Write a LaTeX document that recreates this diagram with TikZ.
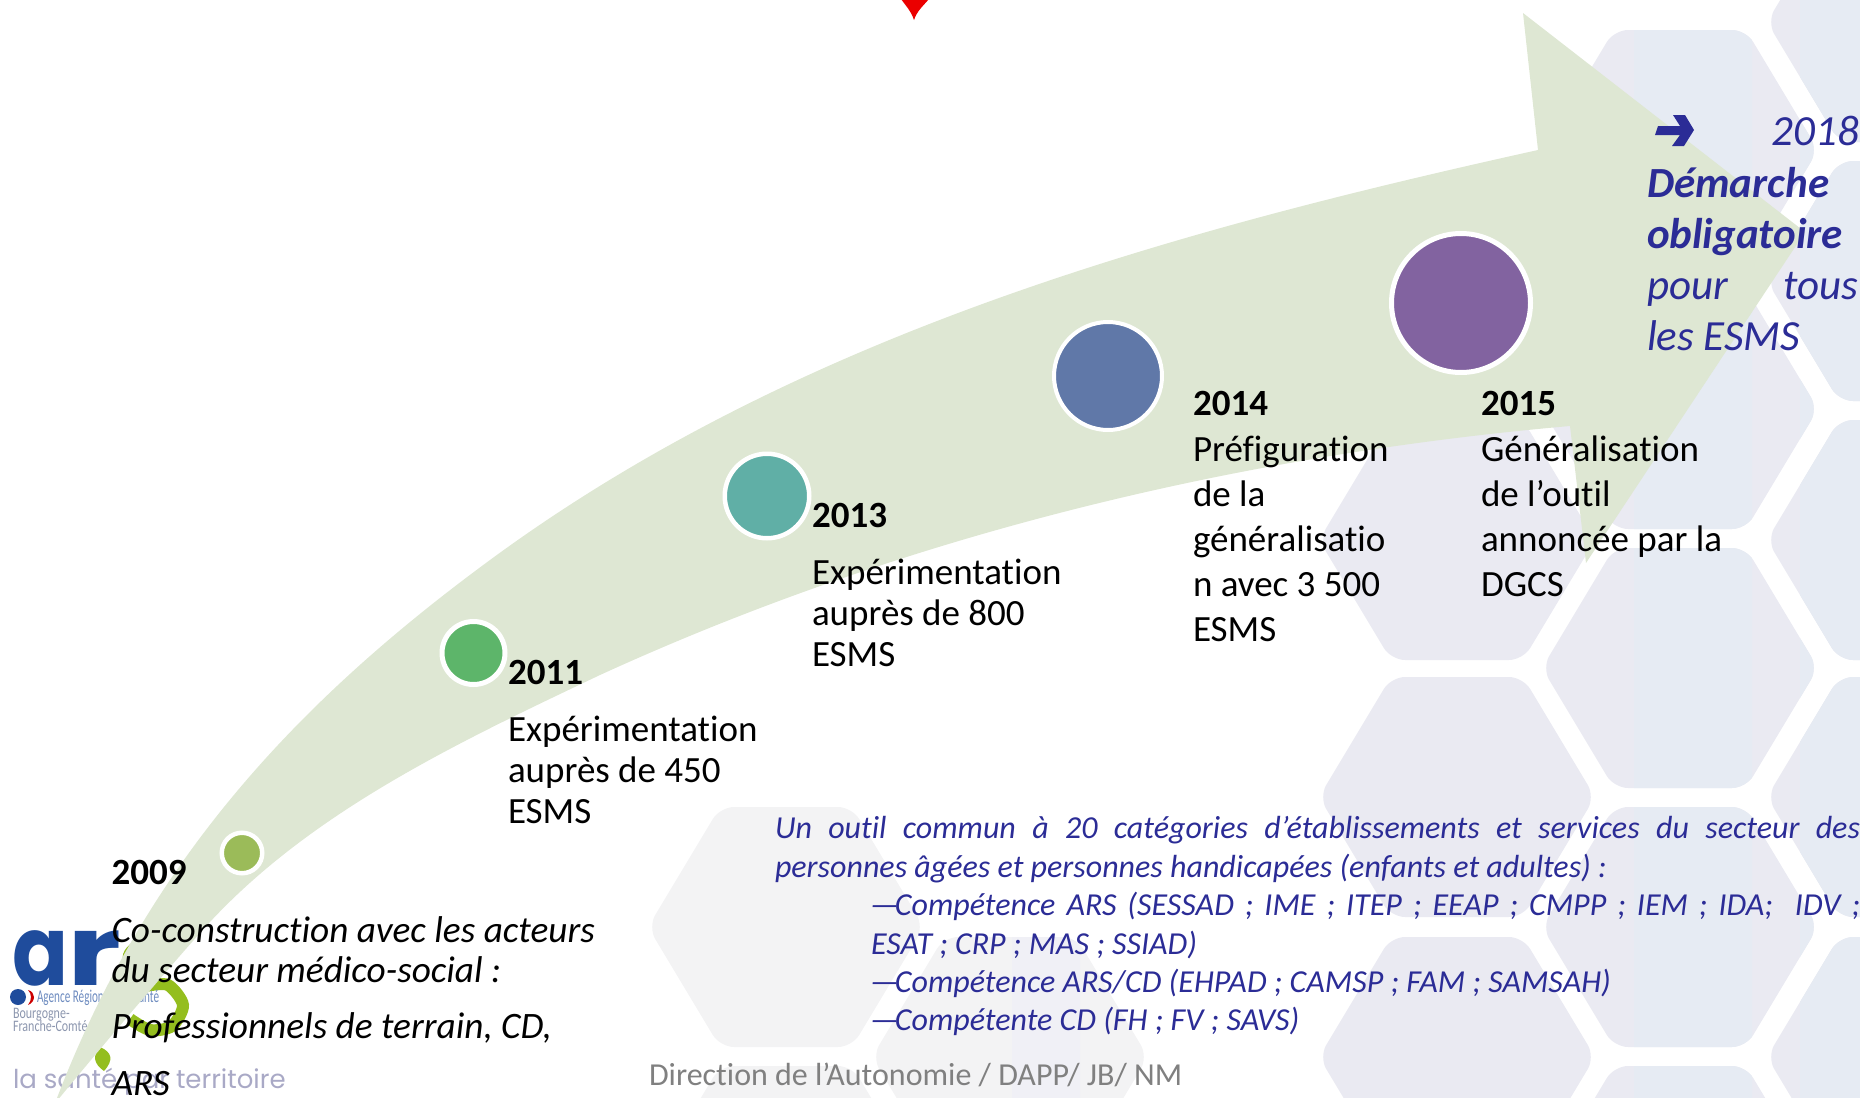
\documentclass[tikz,border=0pt]{standalone}
\usepackage{fontspec}
\setmainfont{Carlito}[Ligatures=NoCommon]
\newfontfamily\logofont{Poppins}
\newcommand\fs[1]{\fontsize{\fpeval{#1*0.5}pt}{\fpeval{#1*0.6}pt}\selectfont}
\newcommand\tiret{—\hspace{-2pt}}
\definecolor{lav}{HTML}{EAEAF2}
\definecolor{lavb}{HTML}{E6EBF3}
\definecolor{gris}{HTML}{F3F3F4}
\definecolor{arrowg}{HTML}{DEE7D3}
\definecolor{bleu}{HTML}{2B2C96}
\definecolor{logob}{HTML}{1F4C9C}
\definecolor{logog}{HTML}{94BE1E}
\definecolor{logot}{HTML}{8C96AE}
\definecolor{logos}{HTML}{A9A9C6}
\definecolor{c9BBB59}{HTML}{9BBB59}
\definecolor{c5DB56A}{HTML}{5DB56A}
\definecolor{c60AFA6}{HTML}{60AFA6}
\definecolor{c6078A8}{HTML}{6078A8}
\definecolor{c8263A0}{HTML}{8263A0}
\newcommand\myhex[3]{\fill[#3,rounded corners=7pt] ({#1-138},{#2}) -- ({#1-66},{#2-120}) -- ({#1+66},{#2-120}) -- ({#1+138},{#2}) -- ({#1+66},{#2+120}) -- ({#1-66},{#2+120}) -- cycle;}
\newcommand\lavhexes[1]{%
  \foreach \cy in {150,409,668,927,1186}{\myhex{1680}{\cy}{#1}}
  \foreach \cy in {22,281,540,797,1057}{\myhex{1905}{\cy}{#1}}
  \foreach \cy in {540,797,1057}{\myhex{1457}{\cy}{#1}}}
\tikzset{
  txt/.style={anchor=base west,inner sep=0pt,outer sep=0pt,font=\fs{37}},
  yr/.style={txt,font=\fs{37}\bfseries},
  ital/.style={txt,font=\fs{37.3}\itshape},
  blu/.style={txt,text=bleu,font=\fs{32}\itshape},
  blb/.style={txt,text=bleu,font=\fs{43}\itshape},
  dot/.style={circle,inner sep=0pt,draw=white},
}
\begin{document}
\begin{tikzpicture}[x=0.5pt,y=-0.5pt]
\useasboundingbox (0,0) rectangle (1860,1098);
\clip (0,0) rectangle (1860,1098);
% background hexagons
\lavhexes{lav}
\begin{scope}
  \clip (1634,0) rectangle (1752,1098) (1800,0) rectangle (1860,1098);
  \lavhexes{lavb}
\end{scope}
\myhex{786}{927}{gris}
\myhex{786}{1186}{gris}
\myhex{1010}{1057}{gris}
\begin{scope}
  \clip (1012,900) rectangle (1080,1098);
  \myhex{1010}{1057}{lav!70!white}
\end{scope}
% red mark at top
\fill[red!92!black] (901,-1) .. controls (906,6) and (911,11) .. (914,20) .. controls (917,11) and (923,6) .. (929,-1) -- cycle;
% logo
\node[txt,text=logob,font=\fs{97}\logofont\bfseries] (logoar) at (12,985) {\scalebox{0.85}[1]{a}\scalebox{1.3}[1]{r}};
\fill[logog] (133,942) .. controls (122,950) and (120,958) .. (126,966) .. controls (132,958) and (134,950) .. (133,942) -- cycle;
\draw[logog,line width=6pt] plot[smooth] coordinates {(146,986)(168,985)(183,1005)(172,1026)(150,1030)(130,1019)};
\fill[logog] (100,1047) .. controls (112,1052) and (114,1060) .. (104,1071) .. controls (94,1064) and (92,1056) .. (100,1047) -- cycle;
\fill[logob] (18,997) circle[radius=4pt];
\fill[red!80!black] (28,990) .. controls (36,992) and (36,1002) .. (28,1005) .. controls (32,1000) and (32,994) .. (28,990) -- cycle;
\node[txt,text=logob!65!white,font=\fs{18}] (logoagence) at (37,1002) {\scalebox{0.62}[1]{Agence Régionale de Santé}};
\node[txt,text=logot,font=\fs{16}] (logobourg) at (13,1018) {\scalebox{0.75}[1]{Bourgogne-}};
\node[txt,text=logot,font=\fs{16}] (logofc) at (13,1031) {\scalebox{0.75}[1]{Franche-Comté}};
\node[txt,text=logos,font=\fs{26}\logofont] (logoslo) at (13,1088) {la santé par territoire};
% arrow
\fill[arrowg] (48,1112) -- (57,1098)
  .. controls (150,855) and (305,696) .. (490,560)
  .. controls (796,335) and (1167,232) .. (1538,150)
  -- (1523,13) -- (1805,232) -- (1586,563) -- (1570,426)
  .. controls (1239,455) and (906,535) .. (600,675)
  .. controls (457,743) and (305,814) .. (200,933)
  .. controls (167,970) and (90,1060) .. (48,1112) -- cycle;
% circles
\node[dot,fill=c9BBB59,line width=2.25pt,minimum size=20.25pt] (c2009) at (242,853) {};
\node[dot,fill=c5DB56A,line width=2.5pt,minimum size=31.5pt] (c2011) at (473.5,653) {};
\node[dot,fill=c60AFA6,line width=2.25pt,minimum size=42.25pt] (c2013) at (767,496) {};
\node[dot,fill=c6078A8,line width=2pt,minimum size=54pt] (c2014) at (1108,376) {};
\node[dot,fill=c8263A0,line width=2.5pt,minimum size=69.5pt] (c2015) at (1461,303) {};
% 2009
\node[yr] (y09) at (111.5,884) {2009};
\node[ital] (t09a) at (111.5,942) {Co-construction avec les acteurs};
\node[ital] (t09b) at (111.5,982) {du secteur médico-social :};
\node[ital] (t09c) at (111.5,1038) {Professionnels de terrain, CD,};
\node[ital] (t09d) at (111.5,1095) {ARS};
% 2011
\node[yr] (y11) at (508,684) {2011};
\node[txt] (t11a) at (508,741) {Expérimentation};
\node[txt] (t11b) at (508,782) {auprès de 450};
\node[txt] (t11c) at (508,823) {ESMS};
% 2013
\node[yr] (y13) at (812,527) {2013};
\node[txt] (t13a) at (812,584) {Expérimentation};
\node[txt] (t13b) at (812,625) {auprès de 800};
\node[txt] (t13c) at (812,666) {ESMS};
% 2014
\node[yr] (y14) at (1193,415) {2014};
\node[txt] (t14a) at (1193,461) {Préfiguration};
\node[txt] (t14b) at (1193,506) {de la};
\node[txt] (t14c) at (1193,551) {généralisatio};
\node[txt] (t14d) at (1193,596) {n avec 3 500};
\node[txt] (t14e) at (1193,641) {ESMS};
% 2015
\node[yr] (y15) at (1481,415) {2015};
\node[txt] (t15a) at (1481,461) {Généralisation};
\node[txt] (t15b) at (1481,506) {de l’outil};
\node[txt] (t15c) at (1481,551) {annoncée par la};
\node[txt] (t15d) at (1481,596) {DGCS};
% 2018
\fill[bleu] (1658,126) -- (1680,126) -- (1673,115) -- (1685,115) -- (1694,130) -- (1684,146) -- (1672,146) -- (1680,135) -- (1655,135) -- cycle;
\node[blb,anchor=base east] (y18) at (1859,145) {2018};
\node[blb,font=\fs{43}\itshape\bfseries] (t18a) at (1647,197) {Démarche};
\node[blb,font=\fs{43}\itshape\bfseries] (t18b) at (1647,248) {obligatoire};
\node[blb] (t18c) at (1647,299) {\makebox[105.5pt][s]{pour tous}};
\node[blb] (t18d) at (1647,350) {les ESMS};
% block
\node[blu] (b1) at (775,838) {\makebox[542.5pt][s]{Un outil commun à 20 catégories d’établissements et services du secteur des}};
\node[blu] (b2) at (775,877) {personnes âgées et personnes handicapées (enfants et adultes) :};
\node[blu] (b3) at (870,915) {\makebox[495pt][s]{\tiret Compétence ARS (SESSAD ; IME ; ITEP ; EEAP ; CMPP ; IEM ; IDA;\ \ IDV ;}};
\node[blu] (b4) at (871,954) {ESAT ; CRP ; MAS ; SSIAD)};
\node[blu] (b5) at (870,992) {\tiret Compétence ARS/CD (EHPAD ; CAMSP ; FAM ; SAMSAH)};
\node[blu] (b6) at (870,1030) {\tiret Compétente CD (FH ; FV ; SAVS)};
\node[txt,text=black!50,font=\fs{32}] (dir) at (649,1085) {Direction de l’Autonomie / DAPP/ JB/ NM};
\end{tikzpicture}
\end{document}
